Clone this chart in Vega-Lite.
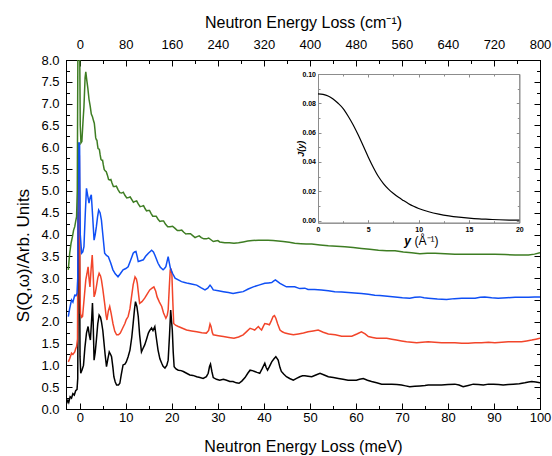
{
"$schema": "https://vega.github.io/schema/vega-lite/v6.json",
"width": 474, "height": 349,
"autosize": {"type": "none"},
"padding": {"left": 66, "top": 60, "right": 12, "bottom": 47},
"background": "white",
"config": {
  "view": {"stroke": "black", "strokeWidth": 1},
  "font": "Liberation Sans",
  "axis": {"grid": false, "domainColor": "black", "tickColor": "black", "labelColor": "black", "titleColor": "black", "labelFont": "Liberation Sans", "titleFont": "Liberation Sans", "titleFontWeight": "normal", "labelFontSize": 13, "titleFontSize": 16, "tickWidth": 1, "domainWidth": 1, "labelOverlap": false, "labelFlush": false}
},
"datasets": {
  "dummy": [{"a": 0, "b": 0}],
  "jy": [
    {"y":0,"J":0.0865},{"y":0.5,"J":0.0861},{"y":1,"J":0.0850},{"y":1.5,"J":0.0829},{"y":2,"J":0.0800},{"y":2.5,"J":0.0764},{"y":3,"J":0.0712},{"y":3.5,"J":0.0652},{"y":4,"J":0.0583},{"y":4.5,"J":0.0508},{"y":5,"J":0.0432},{"y":5.5,"J":0.0362},{"y":6,"J":0.0300},{"y":6.5,"J":0.0252},{"y":7,"J":0.0214},{"y":7.5,"J":0.0184},{"y":8,"J":0.0158},{"y":8.5,"J":0.0136},{"y":9,"J":0.0115},{"y":9.5,"J":0.0097},{"y":10,"J":0.0082},{"y":11,"J":0.0060},{"y":12,"J":0.0044},{"y":13,"J":0.0032},{"y":14,"J":0.0023},{"y":15,"J":0.0016},{"y":16,"J":0.0011},{"y":17,"J":0.0008},{"y":18,"J":0.0005},{"y":19,"J":0.0003},{"y":20,"J":0.0002}
  ],
  "spec": [
    {"s":"k","E":-2.9,"S":0.12},{"s":"k","E":-2.6,"S":0.2},{"s":"k","E":-2.4,"S":0.15},{"s":"k","E":-2.1,"S":0.28},{"s":"k","E":-1.8,"S":0.25},{"s":"k","E":-1.5,"S":0.35},{"s":"k","E":-1.2,"S":0.32},{"s":"k","E":-0.9,"S":0.42},{"s":"k","E":-0.6,"S":0.45},{"s":"k","E":-0.45,"S":0.7},{"s":"k","E":-0.3,"S":4.5},{"s":"k","E":-0.1,"S":4.5},{"s":"k","E":0.05,"S":1.2},{"s":"k","E":0.2,"S":0.82},{"s":"k","E":0.5,"S":0.9},{"s":"k","E":0.8,"S":1.0},{"s":"k","E":1.1,"S":1.4},{"s":"k","E":1.45,"S":1.74},{"s":"k","E":1.8,"S":1.89},{"s":"k","E":2.05,"S":1.7},{"s":"k","E":2.3,"S":1.58},{"s":"k","E":2.6,"S":2.1},{"s":"k","E":2.75,"S":2.43},{"s":"k","E":2.9,"S":2.0},{"s":"k","E":3.1,"S":1.12},{"s":"k","E":3.35,"S":1.3},{"s":"k","E":3.6,"S":1.58},{"s":"k","E":3.9,"S":1.95},{"s":"k","E":4.2,"S":2.15},{"s":"k","E":4.5,"S":2.1},{"s":"k","E":4.7,"S":2.0},{"s":"k","E":5.0,"S":1.8},{"s":"k","E":5.2,"S":1.58},{"s":"k","E":5.5,"S":1.25},{"s":"k","E":5.8,"S":0.97},{"s":"k","E":6.1,"S":1.15},{"s":"k","E":6.4,"S":1.31},{"s":"k","E":6.7,"S":1.25},{"s":"k","E":6.9,"S":1.2},{"s":"k","E":7.2,"S":0.95},{"s":"k","E":7.4,"S":0.74},{"s":"k","E":7.7,"S":0.62},{"s":"k","E":8.0,"S":0.55},{"s":"k","E":8.4,"S":0.55},{"s":"k","E":8.7,"S":0.59},{"s":"k","E":9.0,"S":0.78},{"s":"k","E":9.4,"S":1.01},{"s":"k","E":9.8,"S":1.03},{"s":"k","E":10.1,"S":1.08},{"s":"k","E":10.5,"S":1.2},{"s":"k","E":10.9,"S":1.35},{"s":"k","E":11.3,"S":1.65},{"s":"k","E":11.6,"S":1.97},{"s":"k","E":11.9,"S":2.3},{"s":"k","E":12.1,"S":2.46},{"s":"k","E":12.4,"S":2.35},{"s":"k","E":12.7,"S":2.12},{"s":"k","E":13.0,"S":1.7},{"s":"k","E":13.4,"S":1.31},{"s":"k","E":13.7,"S":1.38},{"s":"k","E":14.1,"S":1.47},{"s":"k","E":14.5,"S":1.6},{"s":"k","E":14.9,"S":1.74},{"s":"k","E":15.2,"S":1.8},{"s":"k","E":15.6,"S":1.86},{"s":"k","E":15.9,"S":1.8},{"s":"k","E":16.3,"S":1.89},{"s":"k","E":16.6,"S":1.65},{"s":"k","E":17.0,"S":1.35},{"s":"k","E":17.4,"S":1.15},{"s":"k","E":17.8,"S":1.05},{"s":"k","E":18.1,"S":0.98},{"s":"k","E":18.5,"S":0.94},{"s":"k","E":18.9,"S":1.0},{"s":"k","E":19.2,"S":1.12},{"s":"k","E":19.5,"S":1.7},{"s":"k","E":19.75,"S":2.27},{"s":"k","E":19.95,"S":2.0},{"s":"k","E":20.1,"S":1.81},{"s":"k","E":20.3,"S":1.3},{"s":"k","E":20.5,"S":0.97},{"s":"k","E":20.9,"S":0.92},{"s":"k","E":21.4,"S":0.89},{"s":"k","E":22.0,"S":0.88},{"s":"k","E":22.5,"S":0.86},{"s":"k","E":23.2,"S":0.82},{"s":"k","E":23.9,"S":0.78},{"s":"k","E":24.6,"S":0.77},{"s":"k","E":25.4,"S":0.74},{"s":"k","E":26.1,"S":0.72},{"s":"k","E":26.8,"S":0.70},{"s":"k","E":27.5,"S":0.74},{"s":"k","E":27.9,"S":0.82},{"s":"k","E":28.2,"S":0.98},{"s":"k","E":28.4,"S":1.03},{"s":"k","E":28.7,"S":0.86},{"s":"k","E":29.0,"S":0.72},{"s":"k","E":29.7,"S":0.68},{"s":"k","E":30.4,"S":0.66},{"s":"k","E":31.2,"S":0.68},{"s":"k","E":31.9,"S":0.66},{"s":"k","E":32.6,"S":0.63},{"s":"k","E":33.3,"S":0.63},{"s":"k","E":34.0,"S":0.60},{"s":"k","E":34.6,"S":0.59},{"s":"k","E":35.2,"S":0.64},{"s":"k","E":35.9,"S":0.72},{"s":"k","E":36.5,"S":0.82},{"s":"k","E":37.0,"S":0.89},{"s":"k","E":37.5,"S":0.88},{"s":"k","E":38.0,"S":0.86},{"s":"k","E":38.5,"S":0.84},{"s":"k","E":39.1,"S":0.82},{"s":"k","E":39.6,"S":0.92},{"s":"k","E":40.2,"S":1.05},{"s":"k","E":40.5,"S":0.95},{"s":"k","E":40.8,"S":0.89},{"s":"k","E":41.2,"S":0.97},{"s":"k","E":41.7,"S":1.08},{"s":"k","E":42.2,"S":1.15},{"s":"k","E":42.6,"S":1.2},{"s":"k","E":43.1,"S":1.12},{"s":"k","E":43.5,"S":0.95},{"s":"k","E":43.8,"S":0.86},{"s":"k","E":44.3,"S":0.8},{"s":"k","E":44.9,"S":0.74},{"s":"k","E":45.6,"S":0.70},{"s":"k","E":46.4,"S":0.66},{"s":"k","E":47.1,"S":0.70},{"s":"k","E":47.8,"S":0.74},{"s":"k","E":48.4,"S":0.76},{"s":"k","E":48.9,"S":0.76},{"s":"k","E":49.6,"S":0.75},{"s":"k","E":50.4,"S":0.74},{"s":"k","E":51.3,"S":0.78},{"s":"k","E":52.2,"S":0.82},{"s":"k","E":53.1,"S":0.78},{"s":"k","E":54.0,"S":0.74},{"s":"k","E":55.1,"S":0.72},{"s":"k","E":56.2,"S":0.70},{"s":"k","E":57.2,"S":0.68},{"s":"k","E":58.3,"S":0.66},{"s":"k","E":59.2,"S":0.66},{"s":"k","E":60.1,"S":0.66},{"s":"k","E":60.8,"S":0.68},{"s":"k","E":61.6,"S":0.70},{"s":"k","E":62.5,"S":0.66},{"s":"k","E":63.4,"S":0.63},{"s":"k","E":64.5,"S":0.60},{"s":"k","E":65.6,"S":0.57},{"s":"k","E":66.7,"S":0.57},{"s":"k","E":67.8,"S":0.57},{"s":"k","E":68.9,"S":0.56},{"s":"k","E":69.9,"S":0.55},{"s":"k","E":70.8,"S":0.53},{"s":"k","E":71.7,"S":0.51},{"s":"k","E":72.8,"S":0.52},{"s":"k","E":73.9,"S":0.53},{"s":"k","E":75.0,"S":0.54},{"s":"k","E":75.7,"S":0.55},{"s":"k","E":77.1,"S":0.55},{"s":"k","E":78.6,"S":0.55},{"s":"k","E":80.0,"S":0.56},{"s":"k","E":81.5,"S":0.57},{"s":"k","E":82.4,"S":0.55},{"s":"k","E":83.3,"S":0.51},{"s":"k","E":84.4,"S":0.54},{"s":"k","E":85.5,"S":0.57},{"s":"k","E":86.6,"S":0.56},{"s":"k","E":87.7,"S":0.55},{"s":"k","E":88.8,"S":0.57},{"s":"k","E":89.9,"S":0.57},{"s":"k","E":91.0,"S":0.56},{"s":"k","E":92.0,"S":0.55},{"s":"k","E":93.1,"S":0.56},{"s":"k","E":94.2,"S":0.57},{"s":"k","E":95.5,"S":0.58},{"s":"k","E":96.7,"S":0.60},{"s":"k","E":97.5,"S":0.62},{"s":"k","E":98.2,"S":0.63},{"s":"k","E":99.1,"S":0.62},{"s":"k","E":100,"S":0.60},
    {"s":"r","E":-2.5,"S":1.08},{"s":"r","E":-2.2,"S":1.15},{"s":"r","E":-1.8,"S":1.28},{"s":"r","E":-1.5,"S":1.25},{"s":"r","E":-1.1,"S":1.31},{"s":"r","E":-0.9,"S":1.38},{"s":"r","E":-0.7,"S":1.43},{"s":"r","E":-0.5,"S":1.6},{"s":"r","E":-0.35,"S":5.8},{"s":"r","E":-0.1,"S":5.8},{"s":"r","E":0.05,"S":2.6},{"s":"r","E":0.15,"S":2.19},{"s":"r","E":0.4,"S":2.1},{"s":"r","E":0.6,"S":2.12},{"s":"r","E":1.0,"S":2.6},{"s":"r","E":1.3,"S":2.96},{"s":"r","E":1.55,"S":3.1},{"s":"r","E":1.8,"S":3.26},{"s":"r","E":2.0,"S":3.0},{"s":"r","E":2.2,"S":2.80},{"s":"r","E":2.45,"S":3.2},{"s":"r","E":2.7,"S":3.53},{"s":"r","E":2.9,"S":3.1},{"s":"r","E":3.1,"S":2.57},{"s":"r","E":3.35,"S":2.65},{"s":"r","E":3.6,"S":2.80},{"s":"r","E":3.9,"S":3.0},{"s":"r","E":4.2,"S":3.11},{"s":"r","E":4.5,"S":3.05},{"s":"r","E":4.7,"S":2.96},{"s":"r","E":5.0,"S":2.75},{"s":"r","E":5.4,"S":2.42},{"s":"r","E":5.7,"S":2.15},{"s":"r","E":5.9,"S":2.04},{"s":"r","E":6.2,"S":2.25},{"s":"r","E":6.5,"S":2.35},{"s":"r","E":6.8,"S":2.2},{"s":"r","E":7.2,"S":1.96},{"s":"r","E":7.6,"S":1.78},{"s":"r","E":8.0,"S":1.70},{"s":"r","E":8.4,"S":1.70},{"s":"r","E":8.8,"S":1.74},{"s":"r","E":9.3,"S":1.85},{"s":"r","E":9.8,"S":1.96},{"s":"r","E":10.1,"S":2.05},{"s":"r","E":10.5,"S":2.12},{"s":"r","E":10.9,"S":2.3},{"s":"r","E":11.2,"S":2.54},{"s":"r","E":11.6,"S":2.85},{"s":"r","E":12.0,"S":3.03},{"s":"r","E":12.3,"S":2.98},{"s":"r","E":12.5,"S":2.88},{"s":"r","E":12.8,"S":2.6},{"s":"r","E":13.0,"S":2.42},{"s":"r","E":13.5,"S":2.46},{"s":"r","E":14.1,"S":2.54},{"s":"r","E":14.6,"S":2.63},{"s":"r","E":15.2,"S":2.73},{"s":"r","E":15.7,"S":2.77},{"s":"r","E":16.1,"S":2.80},{"s":"r","E":16.5,"S":2.7},{"s":"r","E":16.8,"S":2.57},{"s":"r","E":17.3,"S":2.45},{"s":"r","E":17.8,"S":2.35},{"s":"r","E":18.2,"S":2.2},{"s":"r","E":18.7,"S":2.08},{"s":"r","E":19.0,"S":2.15},{"s":"r","E":19.2,"S":2.27},{"s":"r","E":19.45,"S":2.8},{"s":"r","E":19.65,"S":3.19},{"s":"r","E":19.85,"S":3.2},{"s":"r","E":20.0,"S":3.11},{"s":"r","E":20.2,"S":2.5},{"s":"r","E":20.4,"S":1.96},{"s":"r","E":20.8,"S":1.92},{"s":"r","E":21.4,"S":1.89},{"s":"r","E":22.3,"S":1.85},{"s":"r","E":23.2,"S":1.81},{"s":"r","E":24.3,"S":1.79},{"s":"r","E":25.4,"S":1.77},{"s":"r","E":26.5,"S":1.75},{"s":"r","E":27.5,"S":1.74},{"s":"r","E":28.0,"S":1.8},{"s":"r","E":28.3,"S":1.95},{"s":"r","E":28.5,"S":1.9},{"s":"r","E":28.8,"S":1.75},{"s":"r","E":29.0,"S":1.70},{"s":"r","E":30.1,"S":1.68},{"s":"r","E":31.2,"S":1.66},{"s":"r","E":32.4,"S":1.64},{"s":"r","E":33.5,"S":1.62},{"s":"r","E":34.5,"S":1.65},{"s":"r","E":35.5,"S":1.70},{"s":"r","E":36.3,"S":1.78},{"s":"r","E":37.0,"S":1.85},{"s":"r","E":37.5,"S":1.83},{"s":"r","E":38.0,"S":1.81},{"s":"r","E":38.4,"S":1.85},{"s":"r","E":38.8,"S":1.89},{"s":"r","E":39.2,"S":1.84},{"s":"r","E":39.5,"S":1.81},{"s":"r","E":39.9,"S":1.9},{"s":"r","E":40.2,"S":1.96},{"s":"r","E":40.7,"S":1.95},{"s":"r","E":41.2,"S":1.93},{"s":"r","E":41.6,"S":2.02},{"s":"r","E":42.0,"S":2.12},{"s":"r","E":42.3,"S":2.14},{"s":"r","E":42.6,"S":2.08},{"s":"r","E":43.0,"S":1.95},{"s":"r","E":43.5,"S":1.81},{"s":"r","E":44.0,"S":1.77},{"s":"r","E":44.6,"S":1.74},{"s":"r","E":45.5,"S":1.72},{"s":"r","E":46.4,"S":1.70},{"s":"r","E":47.5,"S":1.72},{"s":"r","E":48.6,"S":1.74},{"s":"r","E":49.6,"S":1.77},{"s":"r","E":50.7,"S":1.79},{"s":"r","E":51.8,"S":1.81},{"s":"r","E":52.9,"S":1.76},{"s":"r","E":54.0,"S":1.72},{"s":"r","E":55.5,"S":1.70},{"s":"r","E":56.9,"S":1.67},{"s":"r","E":58.0,"S":1.67},{"s":"r","E":59.1,"S":1.67},{"s":"r","E":60.2,"S":1.72},{"s":"r","E":61.2,"S":1.77},{"s":"r","E":62.0,"S":1.72},{"s":"r","E":62.7,"S":1.66},{"s":"r","E":63.6,"S":1.64},{"s":"r","E":64.5,"S":1.62},{"s":"r","E":65.6,"S":1.62},{"s":"r","E":66.7,"S":1.62},{"s":"r","E":67.8,"S":1.60},{"s":"r","E":68.8,"S":1.58},{"s":"r","E":69.9,"S":1.56},{"s":"r","E":71.0,"S":1.54},{"s":"r","E":72.1,"S":1.53},{"s":"r","E":73.2,"S":1.52},{"s":"r","E":74.4,"S":1.53},{"s":"r","E":75.7,"S":1.54},{"s":"r","E":77.1,"S":1.53},{"s":"r","E":78.6,"S":1.52},{"s":"r","E":80.0,"S":1.52},{"s":"r","E":81.5,"S":1.52},{"s":"r","E":83.0,"S":1.51},{"s":"r","E":84.4,"S":1.51},{"s":"r","E":85.9,"S":1.52},{"s":"r","E":87.3,"S":1.52},{"s":"r","E":88.8,"S":1.53},{"s":"r","E":90.2,"S":1.52},{"s":"r","E":91.7,"S":1.53},{"s":"r","E":93.1,"S":1.54},{"s":"r","E":94.6,"S":1.54},{"s":"r","E":96.0,"S":1.54},{"s":"r","E":97.1,"S":1.56},{"s":"r","E":98.2,"S":1.58},{"s":"r","E":99.1,"S":1.6},{"s":"r","E":100,"S":1.62},
    {"s":"b","E":-2.5,"S":2.12},{"s":"b","E":-2.2,"S":2.3},{"s":"b","E":-1.8,"S":2.50},{"s":"b","E":-1.5,"S":2.45},{"s":"b","E":-1.1,"S":2.61},{"s":"b","E":-0.8,"S":2.6},{"s":"b","E":-0.6,"S":2.65},{"s":"b","E":-0.45,"S":3.0},{"s":"b","E":-0.3,"S":6.1},{"s":"b","E":-0.05,"S":6.1},{"s":"b","E":0.1,"S":4.0},{"s":"b","E":0.4,"S":3.57},{"s":"b","E":0.65,"S":3.6},{"s":"b","E":0.9,"S":3.72},{"s":"b","E":1.2,"S":4.5},{"s":"b","E":1.45,"S":5.06},{"s":"b","E":1.7,"S":4.9},{"s":"b","E":2.0,"S":4.72},{"s":"b","E":2.25,"S":4.85},{"s":"b","E":2.5,"S":4.91},{"s":"b","E":2.8,"S":4.4},{"s":"b","E":3.1,"S":3.87},{"s":"b","E":3.35,"S":4.0},{"s":"b","E":3.6,"S":4.18},{"s":"b","E":3.85,"S":4.4},{"s":"b","E":4.1,"S":4.56},{"s":"b","E":4.4,"S":4.5},{"s":"b","E":4.7,"S":4.33},{"s":"b","E":5.0,"S":4.0},{"s":"b","E":5.4,"S":3.57},{"s":"b","E":5.8,"S":3.52},{"s":"b","E":6.2,"S":3.49},{"s":"b","E":6.7,"S":3.35},{"s":"b","E":7.2,"S":3.19},{"s":"b","E":7.7,"S":3.1},{"s":"b","E":8.3,"S":3.03},{"s":"b","E":8.8,"S":3.1},{"s":"b","E":9.4,"S":3.19},{"s":"b","E":10.0,"S":3.22},{"s":"b","E":10.5,"S":3.26},{"s":"b","E":11.0,"S":3.4},{"s":"b","E":11.6,"S":3.57},{"s":"b","E":11.9,"S":3.6},{"s":"b","E":12.2,"S":3.61},{"s":"b","E":12.5,"S":3.48},{"s":"b","E":12.7,"S":3.38},{"s":"b","E":13.2,"S":3.4},{"s":"b","E":13.8,"S":3.42},{"s":"b","E":14.3,"S":3.5},{"s":"b","E":14.9,"S":3.57},{"s":"b","E":15.2,"S":3.6},{"s":"b","E":15.6,"S":3.64},{"s":"b","E":16.0,"S":3.6},{"s":"b","E":16.3,"S":3.53},{"s":"b","E":16.6,"S":3.45},{"s":"b","E":17.0,"S":3.34},{"s":"b","E":17.5,"S":3.25},{"s":"b","E":18.1,"S":3.19},{"s":"b","E":18.4,"S":3.22},{"s":"b","E":18.7,"S":3.26},{"s":"b","E":19.0,"S":3.4},{"s":"b","E":19.2,"S":3.49},{"s":"b","E":19.45,"S":3.35},{"s":"b","E":19.7,"S":3.22},{"s":"b","E":20.2,"S":3.1},{"s":"b","E":20.7,"S":3.00},{"s":"b","E":21.4,"S":2.96},{"s":"b","E":22.1,"S":2.92},{"s":"b","E":22.8,"S":2.9},{"s":"b","E":23.5,"S":2.88},{"s":"b","E":24.5,"S":2.86},{"s":"b","E":25.4,"S":2.84},{"s":"b","E":26.3,"S":2.78},{"s":"b","E":27.2,"S":2.73},{"s":"b","E":27.8,"S":2.77},{"s":"b","E":28.3,"S":2.84},{"s":"b","E":28.6,"S":2.8},{"s":"b","E":29.0,"S":2.73},{"s":"b","E":30.1,"S":2.71},{"s":"b","E":31.2,"S":2.69},{"s":"b","E":32.3,"S":2.67},{"s":"b","E":33.3,"S":2.65},{"s":"b","E":34.4,"S":2.67},{"s":"b","E":35.5,"S":2.69},{"s":"b","E":36.6,"S":2.75},{"s":"b","E":37.7,"S":2.80},{"s":"b","E":38.9,"S":2.84},{"s":"b","E":40.2,"S":2.88},{"s":"b","E":41.0,"S":2.89},{"s":"b","E":41.7,"S":2.90},{"s":"b","E":42.1,"S":2.93},{"s":"b","E":42.5,"S":2.96},{"s":"b","E":43.0,"S":2.92},{"s":"b","E":43.5,"S":2.88},{"s":"b","E":44.2,"S":2.84},{"s":"b","E":44.9,"S":2.80},{"s":"b","E":45.8,"S":2.80},{"s":"b","E":46.7,"S":2.80},{"s":"b","E":47.8,"S":2.76},{"s":"b","E":48.9,"S":2.77},{"s":"b","E":49.6,"S":2.74},{"s":"b","E":51.0,"S":2.74},{"s":"b","E":52.5,"S":2.73},{"s":"b","E":54.0,"S":2.71},{"s":"b","E":55.4,"S":2.69},{"s":"b","E":56.9,"S":2.68},{"s":"b","E":58.3,"S":2.67},{"s":"b","E":59.7,"S":2.66},{"s":"b","E":61.2,"S":2.65},{"s":"b","E":62.7,"S":2.63},{"s":"b","E":64.1,"S":2.61},{"s":"b","E":65.2,"S":2.60},{"s":"b","E":66.3,"S":2.59},{"s":"b","E":67.4,"S":2.58},{"s":"b","E":68.5,"S":2.57},{"s":"b","E":70.1,"S":2.55},{"s":"b","E":71.7,"S":2.54},{"s":"b","E":72.8,"S":2.56},{"s":"b","E":73.9,"S":2.57},{"s":"b","E":74.8,"S":2.55},{"s":"b","E":75.7,"S":2.54},{"s":"b","E":77.7,"S":2.52},{"s":"b","E":79.7,"S":2.51},{"s":"b","E":81.4,"S":2.53},{"s":"b","E":83.0,"S":2.54},{"s":"b","E":84.5,"S":2.54},{"s":"b","E":85.9,"S":2.54},{"s":"b","E":87.0,"S":2.56},{"s":"b","E":88.0,"S":2.57},{"s":"b","E":89.5,"S":2.55},{"s":"b","E":90.9,"S":2.54},{"s":"b","E":92.8,"S":2.55},{"s":"b","E":94.6,"S":2.56},{"s":"b","E":96.0,"S":2.56},{"s":"b","E":97.5,"S":2.56},{"s":"b","E":98.8,"S":2.57},{"s":"b","E":100,"S":2.57},
    {"s":"g","E":-2.5,"S":3.19},{"s":"g","E":-2.2,"S":3.57},{"s":"g","E":-1.9,"S":3.8},{"s":"g","E":-1.6,"S":3.95},{"s":"g","E":-1.35,"S":4.1},{"s":"g","E":-1.1,"S":4.18},{"s":"g","E":-0.9,"S":4.3},{"s":"g","E":-0.7,"S":4.41},{"s":"g","E":-0.55,"S":5.0},{"s":"g","E":-0.4,"S":8.6},{"s":"g","E":-0.05,"S":8.6},{"s":"g","E":0.1,"S":6.5},{"s":"g","E":0.25,"S":6.1},{"s":"g","E":0.45,"S":6.13},{"s":"g","E":0.7,"S":6.6},{"s":"g","E":0.9,"S":6.93},{"s":"g","E":1.15,"S":7.6},{"s":"g","E":1.3,"S":7.73},{"s":"g","E":1.5,"S":7.55},{"s":"g","E":1.75,"S":7.35},{"s":"g","E":2.0,"S":7.1},{"s":"g","E":2.25,"S":6.95},{"s":"g","E":2.5,"S":6.76},{"s":"g","E":2.75,"S":6.7},{"s":"g","E":3.0,"S":6.6},{"s":"g","E":3.3,"S":6.4},{"s":"g","E":3.6,"S":6.17},{"s":"g","E":3.85,"S":6.05},{"s":"g","E":4.1,"S":5.96},{"s":"g","E":4.4,"S":5.84},{"s":"g","E":4.8,"S":5.7},{"s":"g","E":5.1,"S":5.6},{"s":"g","E":5.5,"S":5.46},{"s":"g","E":6.0,"S":5.36},{"s":"g","E":6.5,"S":5.25},{"s":"g","E":7.0,"S":5.18},{"s":"g","E":7.6,"S":5.10},{"s":"g","E":8.3,"S":5.03},{"s":"g","E":9.1,"S":4.95},{"s":"g","E":9.8,"S":4.9},{"s":"g","E":10.6,"S":4.85},{"s":"g","E":11.3,"S":4.8},{"s":"g","E":12.0,"S":4.76},{"s":"g","E":12.7,"S":4.7},{"s":"g","E":13.5,"S":4.65},{"s":"g","E":14.2,"S":4.59},{"s":"g","E":14.8,"S":4.55},{"s":"g","E":15.5,"S":4.48},{"s":"g","E":16.2,"S":4.42},{"s":"g","E":17.0,"S":4.35},{"s":"g","E":17.8,"S":4.31},{"s":"g","E":18.6,"S":4.24},{"s":"g","E":19.6,"S":4.18},{"s":"g","E":20.7,"S":4.14},{"s":"g","E":21.7,"S":4.09},{"s":"g","E":22.6,"S":4.05},{"s":"g","E":23.5,"S":4.02},{"s":"g","E":24.6,"S":3.97},{"s":"g","E":25.5,"S":3.95},{"s":"g","E":26.4,"S":3.93},{"s":"g","E":27.5,"S":3.9},{"s":"g","E":28.5,"S":3.88},{"s":"g","E":29.5,"S":3.85},{"s":"g","E":30.4,"S":3.83},{"s":"g","E":31.5,"S":3.81},{"s":"g","E":32.5,"S":3.81},{"s":"g","E":33.5,"S":3.80},{"s":"g","E":34.5,"S":3.81},{"s":"g","E":35.5,"S":3.83},{"s":"g","E":36.5,"S":3.85},{"s":"g","E":37.5,"S":3.86},{"s":"g","E":38.8,"S":3.87},{"s":"g","E":40.0,"S":3.87},{"s":"g","E":40.9,"S":3.87},{"s":"g","E":42.0,"S":3.86},{"s":"g","E":43.1,"S":3.85},{"s":"g","E":44.2,"S":3.84},{"s":"g","E":45.5,"S":3.82},{"s":"g","E":46.7,"S":3.80},{"s":"g","E":48.0,"S":3.79},{"s":"g","E":49.2,"S":3.78},{"s":"g","E":50.4,"S":3.78},{"s":"g","E":52.2,"S":3.76},{"s":"g","E":54.0,"S":3.74},{"s":"g","E":55.8,"S":3.73},{"s":"g","E":57.6,"S":3.72},{"s":"g","E":59.4,"S":3.70},{"s":"g","E":61.2,"S":3.68},{"s":"g","E":63.0,"S":3.66},{"s":"g","E":64.9,"S":3.64},{"s":"g","E":66.7,"S":3.63},{"s":"g","E":68.5,"S":3.63},{"s":"g","E":70.3,"S":3.60},{"s":"g","E":72.1,"S":3.58},{"s":"g","E":73.9,"S":3.56},{"s":"g","E":75.5,"S":3.57},{"s":"g","E":77.2,"S":3.57},{"s":"g","E":79.4,"S":3.56},{"s":"g","E":81.5,"S":3.55},{"s":"g","E":83.7,"S":3.55},{"s":"g","E":85.9,"S":3.55},{"s":"g","E":88.0,"S":3.55},{"s":"g","E":90.2,"S":3.55},{"s":"g","E":92.4,"S":3.54},{"s":"g","E":94.6,"S":3.53},{"s":"g","E":96.0,"S":3.53},{"s":"g","E":97.5,"S":3.53},{"s":"g","E":98.8,"S":3.55},{"s":"g","E":100,"S":3.58},
    {"s":"g","E":3.15,"S":6.55},{"s":"g","E":3.45,"S":6.22},{"s":"g","E":3.72,"S":6.16},{"s":"g","E":3.97,"S":5.97},{"s":"g","E":4.25,"S":5.95},{"s":"g","E":4.6,"S":5.72},{"s":"g","E":4.95,"S":5.7},{"s":"g","E":5.3,"S":5.49},{"s":"g","E":5.75,"S":5.44},{"s":"g","E":6.25,"S":5.26},{"s":"g","E":6.75,"S":5.26},{"s":"g","E":7.3,"S":5.1},{"s":"g","E":7.95,"S":5.11},{"s":"g","E":8.7,"S":4.96},{"s":"g","E":9.45,"S":4.97},{"s":"g","E":10.2,"S":4.84},{"s":"g","E":10.95,"S":4.86},{"s":"g","E":11.65,"S":4.74},{"s":"g","E":12.35,"S":4.77},{"s":"g","E":13.1,"S":4.64},{"s":"g","E":13.85,"S":4.66},{"s":"g","E":14.5,"S":4.54},{"s":"g","E":15.15,"S":4.55},{"s":"g","E":15.85,"S":4.42},{"s":"g","E":16.6,"S":4.42},{"s":"g","E":17.4,"S":4.3},{"s":"g","E":18.2,"S":4.31},{"s":"g","E":19.1,"S":4.18},{"s":"g","E":20.15,"S":4.19},{"s":"g","E":21.2,"S":4.09},{"s":"g","E":22.15,"S":4.1},{"s":"g","E":23.05,"S":4.01},{"s":"g","E":24.05,"S":4.02},{"s":"g","E":25.05,"S":3.93},{"s":"g","E":25.95,"S":3.97},{"s":"g","E":26.95,"S":3.9},{"s":"g","E":28.0,"S":3.92},{"s":"g","E":29.0,"S":3.84},{"s":"g","E":30.0,"S":3.86}
  ]
},
"layer": [
  {
    "data": {"name": "spec"},
    "mark": {"type": "line", "strokeWidth": 1.5, "clip": true},
    "encoding": {
      "x": {"field": "E", "type": "quantitative", "scale": {"domain": [-3, 100], "nice": false, "zero": false},
        "axis": {"orient": "bottom", "values": [0,10,20,30,40,50,60,70,80,90,100], "tickSize": -6, "labelPadding": 8, "title": "Neutron Energy Loss (meV)", "titleY": 42, "titleBaseline": "alphabetic"}},
      "y": {"field": "S", "type": "quantitative", "scale": {"domain": [0, 8], "nice": false, "zero": false},
        "axis": {"orient": "left", "values": [0,0.5,1,1.5,2,2.5,3,3.5,4,4.5,5,5.5,6,6.5,7,7.5,8], "format": ".1f", "tickSize": -6, "labelPadding": 13, "title": "S(Q,ω)/Arb. Units", "titleFontSize": 17, "titleX": -43, "titleY": 195, "titleAngle": -90, "titleAlign": "center", "titleBaseline": "middle"}},
      "color": {"field": "s", "type": "nominal", "scale": {"domain": ["k","r","b","g"], "range": ["#000000", "#f2452a", "#0f4ff5", "#3e7d23"]}, "legend": null}
    }
  },
  {
    "data": {"name": "dummy"},
    "mark": {"type": "point", "opacity": 0},
    "encoding": {
      "x": {"field": "a", "type": "quantitative", "scale": {"domain": [-3, 100], "nice": false, "zero": false},
        "axis": {"orient": "bottom", "values": [5,15,25,35,45,55,65,75,85,95], "tickSize": -3.5, "labels": false, "title": null}},
      "y": {"field": "b", "type": "quantitative", "scale": {"domain": [0, 8], "nice": false, "zero": false},
        "axis": {"orient": "left", "values": [0.25,0.75,1.25,1.75,2.25,2.75,3.25,3.75,4.25,4.75,5.25,5.75,6.25,6.75,7.25,7.75], "tickSize": -3.5, "labels": false, "title": null}}
    }
  },
  {
    "data": {"name": "dummy"},
    "mark": {"type": "point", "opacity": 0},
    "encoding": {
      "x": {"field": "a", "type": "quantitative", "scale": {"domain": [-3, 100], "nice": false, "zero": false},
        "axis": {"orient": "top", "values": [0,10,20,30,40,50,60,70,80,90,100], "labelExpr": "format(datum.value*8, 'd')", "tickSize": -6, "labelPadding": 15, "title": "Neutron Energy Loss (cm⁻¹)", "titleY": -33, "titleBaseline": "alphabetic"}},
      "y": {"field": "b", "type": "quantitative", "scale": {"domain": [0, 8], "nice": false, "zero": false},
        "axis": {"orient": "right", "values": [0,0.5,1,1.5,2,2.5,3,3.5,4,4.5,5,5.5,6,6.5,7,7.5,8], "tickSize": -6, "labels": false, "title": null}}
    }
  },
  {
    "data": {"name": "dummy"},
    "mark": {"type": "point", "opacity": 0},
    "encoding": {
      "x": {"field": "a", "type": "quantitative", "scale": {"domain": [-3, 100], "nice": false, "zero": false},
        "axis": {"orient": "top", "values": [5,15,25,35,45,55,65,75,85,95], "tickSize": -3.5, "labels": false, "title": null}},
      "y": {"field": "b", "type": "quantitative", "scale": {"domain": [0, 8], "nice": false, "zero": false},
        "axis": {"orient": "right", "values": [0.25,0.75,1.25,1.75,2.25,2.75,3.25,3.75,4.25,4.75,5.25,5.75,6.25,6.75,7.25,7.75], "tickSize": -3.5, "labels": false, "title": null}}
    }
  },
  {
    "data": {"name": "jy"},
    "mark": {"type": "line", "color": "black", "strokeWidth": 1.2, "interpolate": "monotone"},
    "encoding": {
      "x": {"field": "y", "type": "quantitative", "scale": {"domain": [0, 20], "range": [252, 453.3], "nice": false, "zero": false},
        "axis": {"orient": "bottom", "offset": -186.3, "values": [0,5,10,15,20], "tickSize": -3, "labelPadding": 6, "labelFontSize": 7, "labelFontWeight": "bold", "domainColor": "#8c8c8c", "tickColor": "#8c8c8c", "title": "y", "titleFontSize": 12, "titleFontWeight": "bold", "titleFontStyle": "italic", "titleX": 341, "titleY": 22, "titleAlign": "center", "titleBaseline": "alphabetic"}},
      "y": {"field": "J", "type": "quantitative", "scale": {"domain": [-0.0015, 0.1], "range": [162.7, 14], "nice": false, "zero": false},
        "axis": {"orient": "left", "offset": -252, "values": [0,0.02,0.04,0.06,0.08,0.1], "format": ".2f", "tickSize": -3, "labelPadding": 5.5, "labelFontSize": 7, "labelFontWeight": "bold", "domainColor": "#8c8c8c", "tickColor": "#8c8c8c", "title": "J(y)", "titleFontSize": 9, "titleFontWeight": "bold", "titleFontStyle": "italic", "titleX": -18, "titleY": 88.3, "titleAngle": -90, "titleAlign": "center", "titleBaseline": "middle"}}
    }
  },
  {
    "data": {"name": "dummy"},
    "mark": {"type": "point", "opacity": 0},
    "encoding": {
      "x": {"field": "a", "type": "quantitative", "scale": {"domain": [0, 20], "range": [252, 453.3], "nice": false, "zero": false},
        "axis": {"orient": "bottom", "offset": -186.3, "values": [2.5,7.5,12.5,17.5], "tickSize": -2, "labels": false, "domainColor": "#8c8c8c", "tickColor": "#8c8c8c", "title": "(Å⁻¹)", "titleFontSize": 12, "titleFontWeight": "normal", "titleX": 348, "titleY": 22, "titleAlign": "left", "titleBaseline": "alphabetic"}},
      "y": {"field": "b", "type": "quantitative", "scale": {"domain": [-0.0015, 0.1], "range": [162.7, 14], "nice": false, "zero": false},
        "axis": {"orient": "left", "offset": -252, "values": [0.01,0.03,0.05,0.07,0.09], "tickSize": -2, "labels": false, "domainColor": "#8c8c8c", "tickColor": "#8c8c8c", "title": null}}
    }
  },
  {
    "data": {"name": "dummy"},
    "mark": {"type": "point", "opacity": 0},
    "encoding": {
      "x": {"field": "a", "type": "quantitative", "scale": {"domain": [0, 20], "range": [252, 453.3], "nice": false, "zero": false},
        "axis": {"orient": "top", "offset": -14, "values": [0,5,10,15,20], "tickSize": -3, "labels": false, "domainColor": "#8c8c8c", "tickColor": "#8c8c8c", "title": null}},
      "y": {"field": "b", "type": "quantitative", "scale": {"domain": [-0.0015, 0.1], "range": [162.7, 14], "nice": false, "zero": false},
        "axis": {"orient": "right", "offset": -20.7, "values": [0,0.02,0.04,0.06,0.08,0.1], "tickSize": -3, "labels": false, "domainColor": "#8c8c8c", "tickColor": "#8c8c8c", "title": null}}
    }
  },
  {
    "data": {"name": "dummy"},
    "mark": {"type": "point", "opacity": 0},
    "encoding": {
      "x": {"field": "a", "type": "quantitative", "scale": {"domain": [0, 20], "range": [252, 453.3], "nice": false, "zero": false},
        "axis": {"orient": "top", "offset": -14, "values": [2.5,7.5,12.5,17.5], "tickSize": -2, "labels": false, "domainColor": "#8c8c8c", "tickColor": "#8c8c8c", "title": null}},
      "y": {"field": "b", "type": "quantitative", "scale": {"domain": [-0.0015, 0.1], "range": [162.7, 14], "nice": false, "zero": false},
        "axis": {"orient": "right", "offset": -20.7, "values": [0.01,0.03,0.05,0.07,0.09], "tickSize": -2, "labels": false, "domainColor": "#8c8c8c", "tickColor": "#8c8c8c", "title": null}}
    }
  }
],
"resolve": {"scale": {"x": "independent", "y": "independent"}}
}
